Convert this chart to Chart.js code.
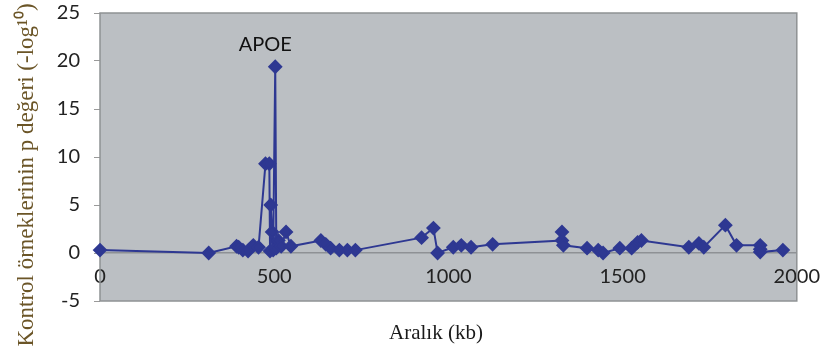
<!DOCTYPE html>
<html>
<head>
<meta charset="utf-8">
<script src="https://cdn.jsdelivr.net/npm/chart.js@4/dist/chart.umd.min.js"></script>
<style>
  html, body { margin: 0; padding: 0; background: #ffffff; }
  #wrap { width: 832px; height: 354px; position: relative; }
</style>
</head>
<body>
<div id="wrap"><canvas id="apoeChart"></canvas></div>
<script>
// Aralık (kb) - position along the region
const positionKb = [
  0, 312, 392, 398, 410, 425, 440, 455, 475, 486,
  488, 490, 494, 497, 503, 506, 512, 520, 534, 548,
  634, 648, 662, 687, 710, 733, 923, 957, 969, 1014,
  1037, 1065, 1127, 1326, 1326, 1330, 1398, 1430, 1444, 1492,
  1526, 1543, 1554, 1690, 1719, 1733, 1795, 1827, 1895, 1895,
  1895, 1960
];
// -log10 p value for control samples
const pValueLog = [
  0.3, 0.0, 0.7, 0.6, 0.3, 0.2, 0.8, 0.6, 9.3, 9.3,
  0.2, 5.0, 2.2, 0.3, 19.4, 0.5, 1.3, 0.7, 2.2, 0.7,
  1.3, 0.9, 0.5, 0.3, 0.3, 0.3, 1.6, 2.6, 0.0, 0.6,
  0.8, 0.6, 0.9, 1.3, 2.2, 0.8, 0.5, 0.3, 0.0, 0.5,
  0.5, 1.1, 1.3, 0.6, 1.0, 0.6, 2.9, 0.8, 0.8, 0.4,
  0.1, 0.3
];
const xTicks = [0, 500, 1000, 1500, 2000];
const yTicks = [-5, 0, 5, 10, 15, 20, 25];
const peakLabel = 'APOE';

const points = positionKb.map((x, i) => ({ x: x, y: pValueLog[i] }));
const peakIndex = pValueLog.indexOf(Math.max(...pValueLog));

// plot background, frame and text labels
const decorPlugin = {
  id: 'decor',
  beforeDraw(chart) {
    const { ctx, chartArea: a } = chart;
    ctx.save();
    ctx.fillStyle = '#bbbfc3';
    ctx.fillRect(a.left, a.top, a.right - a.left, a.bottom - a.top);
    ctx.restore();
  },
  beforeDatasetsDraw(chart) {
    const { ctx, chartArea: a } = chart;
    ctx.save();
    ctx.strokeStyle = '#8f9294';
    ctx.lineWidth = 1.5;
    ctx.strokeRect(a.left, a.top, a.right - a.left, a.bottom - a.top);
    ctx.restore();
  },
  afterDraw(chart) {
    const ctx = chart.ctx;
    const xs = chart.scales.x, ys = chart.scales.y;
    ctx.save();
    // y title
    ctx.translate(27, 175);
    ctx.rotate(-Math.PI / 2);
    ctx.textAlign = 'center';
    ctx.textBaseline = 'middle';
    ctx.font = '23px "Liberation Serif", serif';
    ctx.fillStyle = '#6b5527';
    ctx.fillText('Kontrol örneklerinin p değeri (-log¹⁰)', 0, 0);
    ctx.restore();

    ctx.save();
    ctx.textAlign = 'center';
    ctx.textBaseline = 'middle';
    ctx.font = '21px "Liberation Serif", serif';
    ctx.fillStyle = '#1a1a1a';
    ctx.fillText('Aralık (kb)', 436, 333);

    // gene label above the peak
    const px = xs.getPixelForValue(positionKb[peakIndex]);
    const py = ys.getPixelForValue(pValueLog[peakIndex]);
    ctx.font = '20px Lato, sans-serif';
    ctx.fillStyle = '#111111';
    ctx.fillText(peakLabel, px - 10, py - 22);
    ctx.restore();
  }
};

const ctx = document.getElementById('apoeChart').getContext('2d');
const apoeChart = new Chart(ctx, {
  type: 'scatter',
  data: {
    datasets: [{
      data: points,
      showLine: true,
      borderColor: '#2e3892',
      backgroundColor: '#2e3892',
      borderWidth: 2,
      pointStyle: 'rectRot',
      pointRadius: 6,
      pointHoverRadius: 6,
      tension: 0,
      clip: false
    }]
  },
  options: {
    responsive: true,
    maintainAspectRatio: false,
    animation: false,
    layout: {
      padding: { top: 13, right: 28, bottom: 53, left: 0 }
    },
    plugins: {
      legend: { display: false },
      tooltip: { enabled: false }
    },
    scales: {
      x: {
        type: 'linear',
        position: { y: 0 },
        min: 0,
        max: 2000,
        afterBuildTicks: function(scale) {
          scale.ticks = xTicks.map(v => ({ value: v }));
        },
        grid: { display: false, drawTicks: false },
        border: { display: true, color: '#8e9195', width: 1.5 },
        ticks: {
          padding: 12,
          color: '#222222',
          font: { family: 'Lato', size: 20 },
          callback: function(value) {
            return String(value);
          }
        }
      },
      y: {
        min: -5,
        max: 25,
        afterBuildTicks: function(scale) {
          scale.ticks = yTicks.map(v => ({ value: v }));
        },
        afterFit: function(scale) {
          scale.width = 100;
          // label padding should not push the plot down
          scale.paddingTop = 8;
          scale.paddingBottom = 8;
        },
        grid: {
          drawOnChartArea: false,
          drawTicks: true,
          tickLength: 6,
          color: '#9a9a9a'
        },
        border: { display: false },
        ticks: {
          padding: 14,
          color: '#222222',
          font: { family: 'Lato', size: 20 }
        }
      }
    }
  },
  plugins: [decorPlugin]
});
</script>
</body>
</html>
